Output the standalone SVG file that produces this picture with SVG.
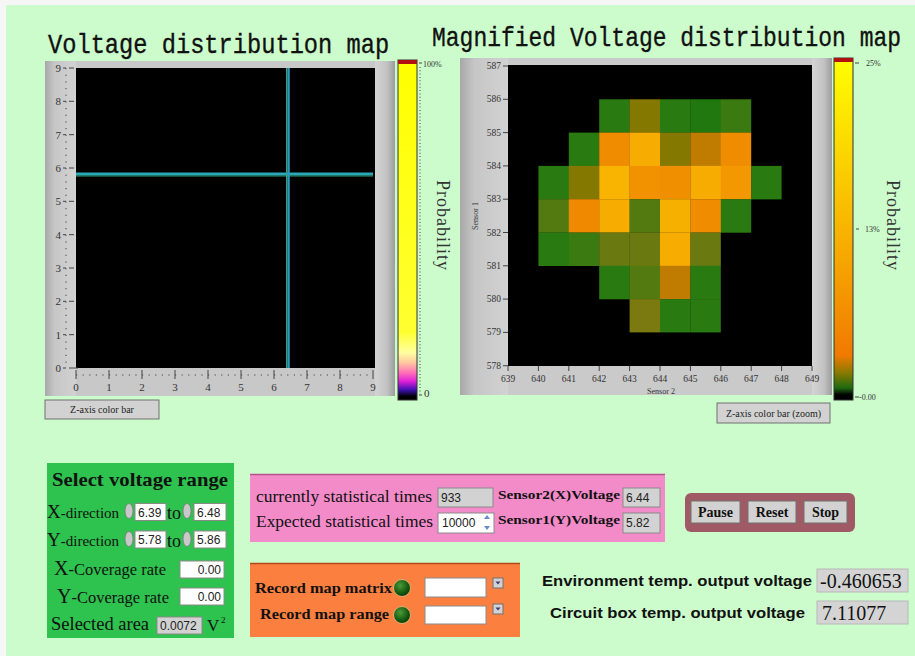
<svg xmlns="http://www.w3.org/2000/svg" width="915" height="656" viewBox="0 0 915 656">
  <defs>
    <style>
      .title { font-family: "Liberation Mono", "DejaVu Sans Mono", monospace; fill: #111; stroke: #111; stroke-width: 0.3; }
      .ax { font-family: "Liberation Serif", "DejaVu Serif", serif; font-size: 11px; fill: #333; }
      .axs { font-family: "Liberation Serif", "DejaVu Serif", serif; font-size: 9.5px; fill: #333; }
      .tiny { font-family: "Liberation Serif", "DejaVu Serif", serif; font-size: 8px; fill: #333; }
      .prob { font-family: "Liberation Serif", "DejaVu Serif", serif; font-size: 18px; fill: #333; letter-spacing: 1px; }
      .btn { fill: #d2d2d2; stroke: #707070; stroke-width: 1; }
      .btntxt { font-family: "Liberation Serif", "DejaVu Serif", serif; font-size: 10px; fill: #222; text-anchor: middle; }
      .ser { font-family: "Liberation Serif", "DejaVu Serif", serif; fill: #111; }
      .serb { font-family: "Liberation Serif", "DejaVu Serif", serif; font-weight: bold; fill: #111; }
      .sansb { font-family: "Liberation Sans", Arial, sans-serif; font-weight: bold; fill: #111; font-size: 15px; }
      .box { fill: #ffffff; stroke: #8a8a8a; stroke-width: 1; }
      .gbox { fill: #d2d2d2; stroke: #8a8a8a; stroke-width: 1; }
      .num { font-family: "Liberation Sans", Arial, sans-serif; font-size: 12px; fill: #222; }
      .spin { fill: #c8c8c8; stroke: #7a7a7a; stroke-width: 0.8; }
      .tick { stroke: #444; stroke-width: 1; fill: none; }
      .cell { stroke: none; }
      .G { fill: #2a7a12; }
      .G2 { fill: #3a7a10; }
      .OL { fill: #527a10; }
      .O6 { fill: #6a7a10; }
      .O1 { fill: #857800; }
      .BR { fill: #c07c00; }
      .OR { fill: #f08c00; }
      .YO { fill: #f6ac00; }
    </style>
    <linearGradient id="frameEdge" x1="0" y1="0" x2="1" y2="0">
      <stop offset="0" stop-color="#d4d4d4"/>
      <stop offset="0.6" stop-color="#c2c2c2"/>
      <stop offset="1" stop-color="#9c9c9c"/>
    </linearGradient>
    <linearGradient id="frameLeft" x1="0" y1="0" x2="1" y2="0">
      <stop offset="0" stop-color="#a8a8a8"/>
      <stop offset="0.3" stop-color="#c6c6c6"/>
      <stop offset="1" stop-color="#d2d2d2"/>
    </linearGradient>
    <linearGradient id="cbLeft" x1="0" y1="0" x2="0" y2="1">
      <stop offset="0" stop-color="#ffff00"/>
      <stop offset="0.8" stop-color="#ffff30"/>
      <stop offset="0.86" stop-color="#ffffa0"/>
      <stop offset="0.89" stop-color="#ffc8a0"/>
      <stop offset="0.92" stop-color="#ff70b8"/>
      <stop offset="0.945" stop-color="#e020d8"/>
      <stop offset="0.97" stop-color="#4010b0"/>
      <stop offset="0.99" stop-color="#000000"/>
    </linearGradient>
    <linearGradient id="cbRight" x1="0" y1="0" x2="0" y2="1">
      <stop offset="0" stop-color="#ffff00"/>
      <stop offset="0.5" stop-color="#f8b400"/>
      <stop offset="0.87" stop-color="#f07a00"/>
      <stop offset="0.92" stop-color="#8a7a00"/>
      <stop offset="0.965" stop-color="#1e6a10"/>
      <stop offset="0.985" stop-color="#000000"/>
    </linearGradient>
    <radialGradient id="led" cx="0.4" cy="0.35" r="0.65">
      <stop offset="0" stop-color="#4c9a3a"/>
      <stop offset="0.7" stop-color="#155a10"/>
      <stop offset="1" stop-color="#0a3a08"/>
    </radialGradient>
  </defs>

  <!-- panel background -->
  <rect x="0" y="0" width="915" height="656" fill="#f6f6f6"/>
  <rect x="6" y="5" width="909" height="651" fill="#ccfccc"/>

  <!-- titles (narrow monospace, stretched vertically) -->
  <g id="titles">
    <text class="title" transform="translate(48 53) scale(1 1.18)" x="0" y="0" font-size="23.7">Voltage distribution map</text>
    <text class="title" transform="translate(432 46) scale(1 1.2)" x="0" y="0" font-size="23">Magnified Voltage distribution map</text>
  </g>

  <!-- left intensity graph -->
  <g id="voltage-map">
    <rect x="45" y="61" width="350" height="335" fill="#c8c8c8"/>
    <rect x="45" y="61" width="31" height="335" fill="url(#frameLeft)"/>
    <rect x="375" y="61" width="20" height="335" fill="url(#frameEdge)"/>
    <rect x="76" y="68" width="299" height="300" fill="#000"/>
    <!-- cursors -->
    <line x1="76" y1="174" x2="373" y2="174" stroke="#2aa8b8" stroke-width="3"/>
    <line x1="76" y1="176" x2="373" y2="176" stroke="#2a9a70" stroke-width="1"/>
    <line x1="288.5" y1="68" x2="288.5" y2="368" stroke="#2a9ac0" stroke-width="2.5"/>
    <line x1="286.5" y1="68" x2="286.5" y2="368" stroke="#40a070" stroke-width="1"/>
    <!-- y axis -->
    <line class="tick" x1="66" y1="68" x2="66" y2="368" stroke-dasharray="1.2 5.47" stroke="#666"/>
    <g class="tick">
      <path d="M63 68h3M69 68h5M63 101.3h3M69 101.3h5M63 134.7h3M69 134.7h5M63 168h3M69 168h5M63 201.3h3M69 201.3h5M63 234.7h3M69 234.7h5M63 268h3M69 268h5M63 301.3h3M69 301.3h5M63 334.7h3M69 334.7h5M63 368h3M69 368h9"/>
    </g>
    <g class="ax" text-anchor="end">
      <text x="61" y="72">9</text>
      <text x="61" y="105.3">8</text>
      <text x="61" y="138.7">7</text>
      <text x="61" y="172">6</text>
      <text x="61" y="205.3">5</text>
      <text x="61" y="238.7">4</text>
      <text x="61" y="272">3</text>
      <text x="61" y="305.3">2</text>
      <text x="61" y="338.7">1</text>
      <text x="61" y="372">0</text>
    </g>
    <!-- x axis -->
    <line class="tick" x1="76" y1="375" x2="373" y2="375" stroke-dasharray="1.2 5.4" stroke="#666"/>
    <path class="tick" d="M76 370v9M109 370v9M142 370v9M175 370v9M208 370v9M241 370v9M274 370v9M307 370v9M340 370v9M373 370v9"/>
    <g class="ax" text-anchor="middle">
      <text x="76" y="391">0</text>
      <text x="109" y="391">1</text>
      <text x="142" y="391">2</text>
      <text x="175" y="391">3</text>
      <text x="208" y="391">4</text>
      <text x="241" y="391">5</text>
      <text x="274" y="391">6</text>
      <text x="307" y="391">7</text>
      <text x="340" y="391">8</text>
      <text x="373" y="391">9</text>
    </g>
  </g>

  <!-- left color scale -->
  <g id="color-scale-left">
    <rect x="398" y="60" width="19" height="340" fill="url(#cbLeft)" stroke="#333" stroke-width="1"/>
    <rect x="398" y="60" width="19" height="4" fill="#b01010"/>
    <line x1="420" y1="67" x2="420" y2="394" stroke="#777" stroke-width="1.5" stroke-dasharray="1 2.3"/>
    <path class="tick" d="M419 63h3M419 395h3"/>
    <text class="tiny" x="423" y="67">100%</text>
    <text class="ax" x="424" y="397">0</text>
    <text class="prob" transform="translate(437 180) rotate(90)">Probability</text>
  </g>

  <g id="zbar-button">
    <rect class="btn" x="45" y="400" width="114" height="19"/>
    <text class="btntxt" x="102" y="413">Z-axis color bar</text>
  </g>

  <!-- right intensity graph (zoomed) -->
  <g id="magnified-map">
    <rect x="460" y="58" width="372" height="337" fill="#cacaca"/>
    <rect x="460" y="58" width="48" height="337" fill="url(#frameLeft)"/>
    <rect x="812" y="58" width="20" height="337" fill="url(#frameEdge)"/>
    <rect x="508" y="65" width="304" height="301" fill="#000"/>
    <!-- cells: row 586 -->
    <rect class="cell G"  x="599.2" y="99.3" width="30.6" height="33.5"/>
    <rect class="cell O1" x="629.6" y="99.3" width="30.6" height="33.5"/>
    <rect class="cell G"  x="660" y="99.3" width="30.6" height="33.5"/>
    <rect class="cell" fill="#20780f" x="690.4" y="99.3" width="30.6" height="33.5"/>
    <rect class="cell G2" x="720.8" y="99.3" width="30.4" height="33.5"/>
    <!-- row 585 -->
    <rect class="cell G"  x="568.8" y="132.6" width="30.6" height="33.5"/>
    <rect class="cell OR" x="599.2" y="132.6" width="30.6" height="33.5"/>
    <rect class="cell YO" x="629.6" y="132.6" width="30.6" height="33.5"/>
    <rect class="cell O1" x="660" y="132.6" width="30.6" height="33.5"/>
    <rect class="cell BR" x="690.4" y="132.6" width="30.6" height="33.5"/>
    <rect class="cell OR" x="720.8" y="132.6" width="30.4" height="33.5"/>
    <!-- row 584 -->
    <rect class="cell G"  x="538.4" y="165.9" width="30.6" height="33.5"/>
    <rect class="cell O1" x="568.8" y="165.9" width="30.6" height="33.5"/>
    <rect class="cell" fill="#f8b400" x="599.2" y="165.9" width="30.6" height="33.5"/>
    <rect class="cell" fill="#f39200" x="629.6" y="165.9" width="30.6" height="33.5"/>
    <rect class="cell" fill="#f09000" x="660" y="165.9" width="30.6" height="33.5"/>
    <rect class="cell YO" x="690.4" y="165.9" width="30.6" height="33.5"/>
    <rect class="cell" fill="#f39800" x="720.8" y="165.9" width="30.6" height="33.5"/>
    <rect class="cell G"  x="751.2" y="165.9" width="30.4" height="33.5"/>
    <!-- row 583 -->
    <rect class="cell OL" x="538.4" y="199.2" width="30.6" height="33.5"/>
    <rect class="cell" fill="#f08800" x="568.8" y="199.2" width="30.6" height="33.5"/>
    <rect class="cell YO" x="599.2" y="199.2" width="30.6" height="33.5"/>
    <rect class="cell OL" x="629.6" y="199.2" width="30.6" height="33.5"/>
    <rect class="cell" fill="#f6b000" x="660" y="199.2" width="30.6" height="33.5"/>
    <rect class="cell OR" x="690.4" y="199.2" width="30.6" height="33.5"/>
    <rect class="cell G"  x="720.8" y="199.2" width="30.4" height="33.5"/>
    <!-- row 582 -->
    <rect class="cell G"  x="538.4" y="232.5" width="30.6" height="33.5"/>
    <rect class="cell G2" x="568.8" y="232.5" width="30.6" height="33.5"/>
    <rect class="cell O6" x="599.2" y="232.5" width="30.6" height="33.5"/>
    <rect class="cell O6" x="629.6" y="232.5" width="30.6" height="33.5"/>
    <rect class="cell YO" x="660" y="232.5" width="30.6" height="33.5"/>
    <rect class="cell O6" x="690.4" y="232.5" width="30.4" height="33.5"/>
    <!-- row 581 -->
    <rect class="cell G"  x="599.2" y="265.8" width="30.6" height="33.5"/>
    <rect class="cell OL" x="629.6" y="265.8" width="30.6" height="33.5"/>
    <rect class="cell BR" x="660" y="265.8" width="30.6" height="33.5"/>
    <rect class="cell G"  x="690.4" y="265.8" width="30.4" height="33.5"/>
    <!-- row 580 -->
    <rect class="cell" fill="#7a7a10" x="629.6" y="299.1" width="30.6" height="33.3"/>
    <rect class="cell G"  x="660" y="299.1" width="30.6" height="33.3"/>
    <rect class="cell G"  x="690.4" y="299.1" width="30.4" height="33.3"/>
    <!-- y axis -->
    <path class="tick" d="M503 66h5M503 99.3h5M503 132.6h5M503 165.9h5M503 199.2h5M503 232.5h5M503 265.8h5M503 299.1h5M503 332.4h5M503 365.7h5"/>
    <g class="axs" text-anchor="end">
      <text x="501" y="69">587</text>
      <text x="501" y="102.3">586</text>
      <text x="501" y="135.6">585</text>
      <text x="501" y="168.9">584</text>
      <text x="501" y="202.2">583</text>
      <text x="501" y="235.5">582</text>
      <text x="501" y="268.8">581</text>
      <text x="501" y="302.1">580</text>
      <text x="501" y="335.4">579</text>
      <text x="501" y="368.7">578</text>
    </g>
    <!-- x axis -->
    <path class="tick" d="M508 366v5M538.4 366v5M568.8 366v5M599.2 366v5M629.6 366v5M660 366v5M690.4 366v5M720.8 366v5M751.2 366v5M781.6 366v5M812 366v5"/>
    <g class="axs" text-anchor="middle">
      <text x="508" y="382">639</text>
      <text x="538.4" y="382">640</text>
      <text x="568.8" y="382">641</text>
      <text x="599.2" y="382">642</text>
      <text x="629.6" y="382">643</text>
      <text x="660" y="382">644</text>
      <text x="690.4" y="382">645</text>
      <text x="720.8" y="382">646</text>
      <text x="751.2" y="382">647</text>
      <text x="781.6" y="382">648</text>
      <text x="812" y="382">649</text>
    </g>
    <text class="tiny" x="661" y="394" text-anchor="middle">Sensor 2</text>
    <text class="tiny" transform="translate(478 216) rotate(-90)" text-anchor="middle">Sensor 1</text>
  </g>

  <!-- right color scale -->
  <g id="color-scale-right">
    <rect x="834" y="58" width="19" height="342" fill="url(#cbRight)" stroke="#333" stroke-width="1"/>
    <rect x="834" y="58" width="19" height="4" fill="#b01010"/>
    <path class="tick" d="M855 63h4M856 229h3M855 397h4"/>
    <text class="tiny" x="866" y="66">25%</text>
    <text class="tiny" x="865" y="232">13%</text>
    <text class="tiny" x="859" y="400">-0.00</text>
    <text class="prob" transform="translate(887 180) rotate(90)">Probability</text>
  </g>

  <g id="zbar-zoom-button">
    <rect class="btn" x="717" y="403" width="113" height="20"/>
    <text class="btntxt" x="773.5" y="417">Z-axis color bar (zoom)</text>
  </g>

  <!-- voltage range selection -->
  <g id="select-range">
    <rect x="47" y="463" width="187" height="175" fill="#2ec24e"/>
    <text class="serb" x="52" y="486" font-size="19" textLength="176" lengthAdjust="spacingAndGlyphs">Select voltage range</text>
    <!-- X-direction -->
    <text class="ser" x="47" y="518"><tspan font-size="19">X</tspan><tspan font-size="15">-direction</tspan></text>
    <ellipse class="spin" cx="129" cy="511" rx="4" ry="7.5"/>
    <rect class="box" x="135" y="503.5" width="31" height="17"/>
    <text class="num" x="138" y="516.5">6.39</text>
    <text class="ser" x="167" y="519" font-size="18">to</text>
    <ellipse class="spin" cx="187" cy="511" rx="4" ry="7.5"/>
    <rect class="box" x="194" y="503.5" width="32" height="17"/>
    <text class="num" x="197" y="516.5">6.48</text>
    <!-- Y-direction -->
    <text class="ser" x="47" y="546"><tspan font-size="19">Y</tspan><tspan font-size="15">-direction</tspan></text>
    <ellipse class="spin" cx="129" cy="539" rx="4" ry="7.5"/>
    <rect class="box" x="135" y="531" width="31" height="17"/>
    <text class="num" x="138" y="544">5.78</text>
    <text class="ser" x="167" y="547" font-size="18">to</text>
    <ellipse class="spin" cx="187" cy="539" rx="4" ry="7.5"/>
    <rect class="box" x="194" y="531" width="32" height="17"/>
    <text class="num" x="197" y="544">5.86</text>
    <!-- coverage -->
    <text class="ser" x="54" y="575"><tspan font-size="20">X</tspan><tspan font-size="16.5">-Coverage rate</tspan></text>
    <rect class="box" x="180" y="561" width="44" height="17"/>
    <text class="num" x="221" y="574" text-anchor="end">0.00</text>
    <text class="ser" x="57" y="603"><tspan font-size="20">Y</tspan><tspan font-size="16.5">-Coverage rate</tspan></text>
    <rect class="box" x="180" y="588" width="44" height="17"/>
    <text class="num" x="221" y="601" text-anchor="end">0.00</text>
    <!-- area -->
    <text class="ser" x="51" y="630" font-size="18.5">Selected area</text>
    <rect class="gbox" x="157" y="617" width="45" height="17"/>
    <text class="num" x="160" y="630">0.0072</text>
    <text class="ser" x="207" y="631" font-size="17">V</text>
    <text class="ser" x="221" y="623" font-size="9">2</text>
  </g>

  <!-- statistics -->
  <g id="statistics">
    <rect x="250" y="474" width="415" height="68" fill="#f38bc9"/>
    <line x1="250" y1="474.5" x2="665" y2="474.5" stroke="#b8508a" stroke-width="1.5"/>
    <text class="ser" x="256" y="502" font-size="16" textLength="176" lengthAdjust="spacingAndGlyphs">currently statistical times</text>
    <rect class="gbox" x="438" y="488" width="55" height="19"/>
    <text class="num" x="441" y="502">933</text>
    <text class="serb" x="498" y="499" font-size="13" textLength="122" lengthAdjust="spacingAndGlyphs">Sensor2(X)Voltage</text>
    <rect class="gbox" x="623" y="488" width="37" height="19"/>
    <text class="num" x="626" y="502">6.44</text>
    <text class="ser" x="256" y="527" font-size="16" textLength="177" lengthAdjust="spacingAndGlyphs">Expected statistical times</text>
    <rect class="box" x="438" y="513" width="56" height="20"/>
    <text class="num" x="442" y="527">10000</text>
    <path d="M484 519l3-4 3 4zM484 526l3 4 3-4z" fill="#6a8ad0"/>
    <text class="serb" x="498" y="524" font-size="13" textLength="122" lengthAdjust="spacingAndGlyphs">Sensor1(Y)Voltage</text>
    <rect class="gbox" x="623" y="513" width="37" height="20"/>
    <text class="num" x="626" y="527">5.82</text>
  </g>

  <!-- recording -->
  <g id="recording">
    <rect x="250" y="563" width="270" height="74" fill="#fb8040"/>
    <line x1="250" y1="563.5" x2="520" y2="563.5" stroke="#b04a1a" stroke-width="1.5"/>
    <text class="serb" x="255" y="593" font-size="15" textLength="137" lengthAdjust="spacingAndGlyphs">Record map matrix</text>
    <circle cx="402" cy="588" r="8.5" fill="url(#led)" stroke="#e0b070" stroke-width="1"/>
    <rect class="box" x="425" y="578" width="61" height="19" stroke="#c08060"/>
    <rect class="btn" x="493" y="578" width="10" height="10"/>
    <path d="M495.5 581.5h5l-2.5 3z" fill="#3a3a7a"/>
    <text class="serb" x="260" y="619" font-size="15" textLength="129" lengthAdjust="spacingAndGlyphs">Record map range</text>
    <circle cx="402" cy="615" r="8.5" fill="url(#led)" stroke="#e0b070" stroke-width="1"/>
    <rect class="box" x="425" y="606" width="61" height="18" stroke="#c08060"/>
    <rect class="btn" x="493" y="604" width="10" height="10"/>
    <path d="M495.5 607.5h5l-2.5 3z" fill="#3a3a7a"/>
  </g>

  <!-- run control -->
  <g id="run-control">
    <rect x="685" y="493" width="170" height="39" rx="6" fill="#a05a66"/>
    <rect class="btn" x="691" y="501" width="49" height="22" stroke="#5a5a5a"/>
    <text class="serb" x="715.5" y="517" font-size="14" text-anchor="middle">Pause</text>
    <rect class="btn" x="748" y="501" width="48" height="22" stroke="#5a5a5a"/>
    <text class="serb" x="772" y="517" font-size="14" text-anchor="middle">Reset</text>
    <rect class="btn" x="804" y="501" width="43" height="22" stroke="#5a5a5a"/>
    <text class="serb" x="825.5" y="517" font-size="14" text-anchor="middle">Stop</text>
  </g>

  <!-- temperature readouts -->
  <g id="temperature">
    <text class="sansb" x="542" y="586" textLength="270" lengthAdjust="spacingAndGlyphs">Environment temp. output voltage</text>
    <rect x="817" y="569" width="91" height="23" fill="#d4d4d4" stroke="#b8b8b8"/>
    <text class="ser" x="820" y="588" font-size="20" fill="#333">-0.460653</text>
    <text class="sansb" x="550" y="618" textLength="255" lengthAdjust="spacingAndGlyphs">Circuit box temp. output voltage</text>
    <rect x="817" y="601" width="91" height="23" fill="#d4d4d4" stroke="#b8b8b8"/>
    <text class="ser" x="822" y="620" font-size="20" fill="#333">7.11077</text>
  </g>
</svg>
